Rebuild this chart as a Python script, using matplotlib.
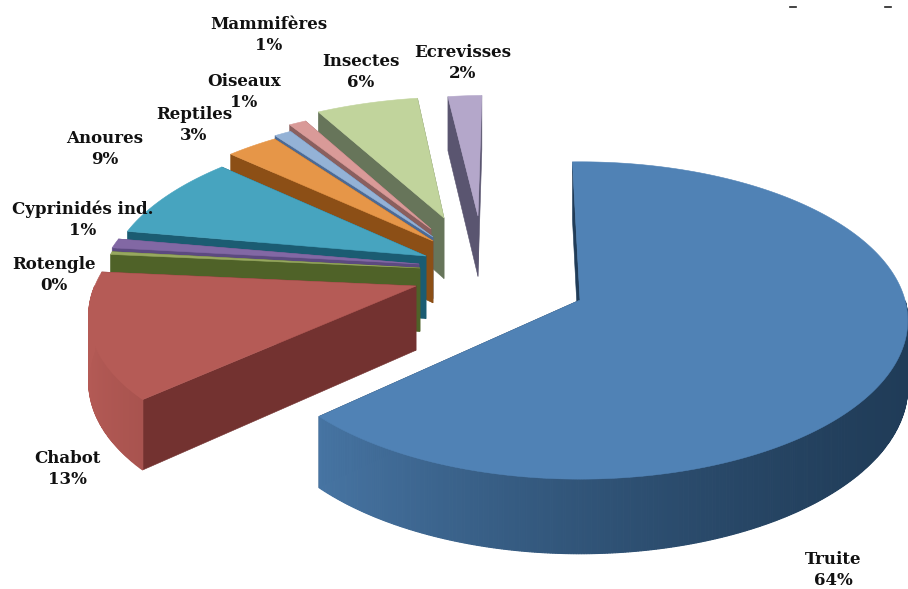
import numpy as np
import matplotlib
matplotlib.use('Agg')
import matplotlib.pyplot as plt

# Diet shares, clockwise from the top of the pie
names = ['Truite', 'Chabot', 'Rotengle', 'Cyprinidés ind.', 'Anoures',
         'Reptiles', 'Oiseaux', 'Mammifères', 'Insectes', 'Ecrevisses']
values = [63.5, 13.4, 0.3, 1, 8.8, 3, 1, 1, 6, 2]

top_colors = ['#5082b5', '#b55b56', '#97a85f', '#8268a4', '#47a4bf',
              '#e69648', '#94b2d6', '#d99a98', '#c1d49c', '#b4a7ca']
wall_colors = ['#203c58', '#733230', '#4f6228', '#5c4a80', '#1b5c72',
               '#8c4f16', '#4b6a96', '#8a5f5e', '#67755a', '#5a5570']

# Where each slice's tip lands once the slice is pulled out of the pie
tips = [(580, 300), (416, 286), (420, 268), (419, 264), (426, 256),
        (433, 241), (433, 237), (431, 229), (444, 218), (478, 216)]

label_pos = [(833, 570), (67, 469), (54, 275), (83, 220), (105, 149),
             (194, 125), (244, 92), (269, 35), (361, 72), (463, 63)]

# Perspective settings for the tilted disc
CX, CY = 580, 300
A, B = 325, 156
K = 0.129
H = 65
START = 91.5


def project(x, y):
    w = 1 + K * y
    return CX + A * x / w, CY - B * y / w, H / w


def tip_to_disc(sx, sy):
    dy = sy - CY
    ey = -dy / (B + K * dy)
    ex = (sx - CX) * (1 + K * ey) / A
    return ex, ey


def mix(c1, c2, t):
    c1 = np.array(matplotlib.colors.to_rgb(c1))
    c2 = np.array(matplotlib.colors.to_rgb(c2))
    return tuple(c1 + (c2 - c1) * t)


def draw_wall(ax, ex, ey, ang, color):
    x0, y0, h0 = project(ex, ey)
    x1, y1, h1 = project(ex + np.cos(ang), ey + np.sin(ang))
    ax.fill([x0, x1, x1, x0], [y0, y1, y1 + h1, y0 + h0],
            color=color, lw=0.4)


def draw_slice(ax, ex, ey, a0, a1, top, wall):
    # a0 > a1, angles in radians going clockwise
    n = max(3, int(np.degrees(a0 - a1) / 0.4))
    th = np.linspace(a0, a1, n)
    px, py, ph = project(ex + np.cos(th), ey + np.sin(th))

    draw_wall(ax, ex, ey, a0, wall)
    draw_wall(ax, ex, ey, a1, wall)

    # outer edge: only the part facing the viewer, one thin quad per step
    for i in range(n - 1):
        if np.sin(th[i]) > 0:
            continue
        t = ((1 - np.cos(th[i])) / 2) ** 1.5
        c = mix(wall, top, t)
        ax.fill([px[i], px[i + 1], px[i + 1], px[i]],
                [py[i], py[i + 1], py[i + 1] + ph[i + 1], py[i] + ph[i]],
                color=c, lw=0.8)

    x0, y0, _ = project(ex, ey)
    ax.fill(np.r_[x0, px], np.r_[y0, py], color=top, lw=0.4)


fig = plt.figure(figsize=(9.08, 5.89), dpi=100)
ax = fig.add_axes([0, 0, 1, 1])
ax.set_xlim(0, 908)
ax.set_ylim(589, 0)
ax.axis('off')

fractions = np.array(values) / np.sum(values)
edges = np.radians(START - 360 * np.r_[0, np.cumsum(fractions)])

# Truite goes on last since it sits in front of everything
for i in list(range(1, len(values)))[::-1] + [0]:
    ex, ey = tip_to_disc(*tips[i])
    draw_slice(ax, ex, ey, edges[i], edges[i + 1], top_colors[i], wall_colors[i])

for name, v, (x, y) in zip(names, values, label_pos):
    ax.text(x, y, f'{name}\n{round(v)}%', ha='center', va='center',
            family='DejaVu Serif', weight='bold', fontsize=12,
            color='#111111', linespacing=1.33)

# two stray dashes along the top edge
for x in (793, 888):
    ax.plot([x - 3, x + 3], [7, 7], color='#222222', lw=1.2)

fig.savefig('out.png', dpi=100)
